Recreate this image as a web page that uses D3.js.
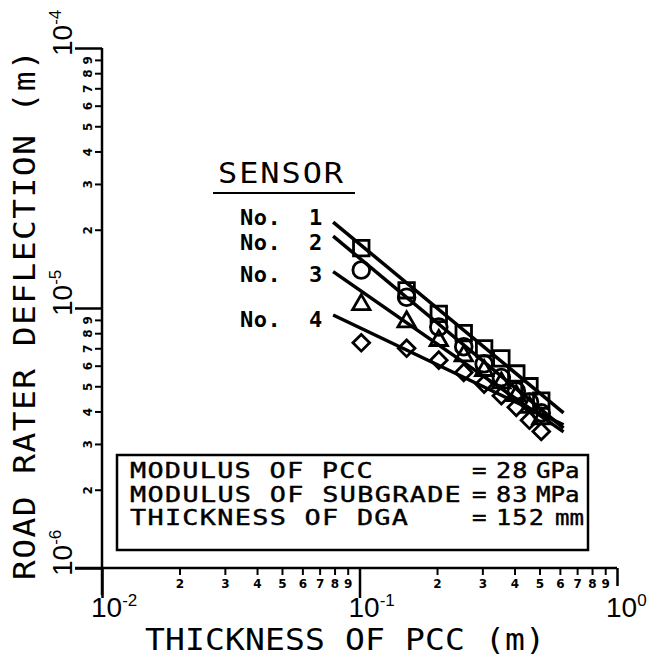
<!DOCTYPE html>
<html>
<head>
<meta charset="utf-8">
<script src="https://cdn.jsdelivr.net/npm/d3@7"></script>
<style>
body { margin: 0; background: #fff; }
text { fill: #000; }
</style>
</head>
<body>
<script>
// PCC thickness (m) for each measured point
const thickness = [0.1016, 0.1524, 0.2032, 0.254, 0.3048, 0.3556, 0.4064, 0.4572, 0.508];
// deflections, in micro-metres (1e-6 m)
const sensor1 = [17.0, 11.7, 9.5, 8.0, 7.0, 6.4, 5.6, 5.0, 4.4];
const sensor2 = [14.0, 11.0, 8.45, 7.1, 6.1, 5.4, 4.8, 4.35, 3.95];
const sensor3 = [10.3, 8.85, 7.5, 6.55, 5.75, 5.15, 4.6, 4.15, 3.75];
const sensor4 = [7.35, 7.0, 6.3, 5.65, 5.1, 4.6, 4.15, 3.7, 3.35];
// fitted lines: thickness range and deflection at both ends (micro-metres)
const fitX = [0.079, 0.62];
const fit1 = [21.4, 3.95];
const fit2 = [18.9, 3.45];
const fit3 = [13.8, 3.34];
const fit4 = [9.4, 3.55];
const sensorNames = ['1', '2', '3', '4'];

const xMajor = [0.01, 0.1, 1];
const yMajor = [1e-6, 1e-5, 1e-4];
const xExp = ['-2', '-1', '0'];
const yExp = ['-6', '-5', '-4'];
const minorDigits = [2, 3, 4, 5, 6, 7, 8, 9];

const params = ['MODULUS OF PCC', 'MODULUS OF SUBGRADE', 'THICKNESS OF DGA'];
const paramValues = ['28', '83', '152'];
const paramUnits = ['GPa', 'MPa', 'mm'];

const width = 649, height = 658;
const mono = '"DejaVu Sans Mono", monospace';

const svg = d3.select('body').append('svg')
	.attr('width', width)
	.attr('height', height)
	.style('background', '#fff');

const x = d3.scaleLog().domain([0.01, 1]).range([102, 617]);
const y = d3.scaleLog().domain([1e-6, 1e-4]).range([568, 48]);

const xMinor = d3.merge(xMajor.slice(0, 2).map(b => minorDigits.map(d => d * b)));
const yMinor = d3.merge(yMajor.slice(0, 2).map(b => minorDigits.map(d => d * b)));
const digitOf = d => Math.round(d / Math.pow(10, Math.floor(Math.log10(d) + 1e-9)));

// plotter-like wide lettering: mono font stretched sideways
function wideText(sel, px, py, rot, sx, size, str, len, sw) {
	let t = sel.append('text')
		.attr('transform', `translate(${px},${py}) rotate(${rot}) scale(${sx},1)`)
		.style('font-family', mono)
		.style('font-size', size + 'px')
		.style('stroke', '#000')
		.style('stroke-width', sw == null ? 0.4 : sw)
		.text(str);
	if(len) t.attr('textLength', len / sx).attr('lengthAdjust', 'spacing');
	return t;
}

// ---- axes ----
const axes = svg.append('g').attr('class', 'axes');

// x minor ticks
axes.append('g')
	.attr('transform', `translate(0,${y(1e-6)})`)
	.call(d3.axisBottom(x).tickValues(xMinor).tickSize(7).tickPadding(4).tickSizeOuter(0).tickFormat(digitOf))
	.call(g => g.select('.domain').remove())
	.call(g => g.selectAll('.tick line').attr('stroke', '#000').attr('stroke-width', 2))
	.call(g => g.selectAll('.tick text')
		.style('font-family', '"DejaVu Sans", sans-serif')
		.style('font-weight', 'bold')
		.style('font-size', '12px'));

// x major ticks
axes.append('g')
	.attr('transform', `translate(0,${y(1e-6)})`)
	.call(d3.axisBottom(x).tickValues(xMajor).tickSize(30).tickSizeOuter(0).tickFormat(''))
	.call(g => g.select('.domain').remove())
	.call(g => g.selectAll('.tick line').attr('stroke', '#000').attr('stroke-width', 2.5)
		.attr('y2', d => d === 1 ? 18 : 30));

// y minor ticks
axes.append('g')
	.attr('transform', `translate(${x(0.01)},0)`)
	.call(d3.axisLeft(y).tickValues(yMinor).tickSize(7).tickSizeOuter(0).tickFormat(digitOf))
	.call(g => g.select('.domain').remove())
	.call(g => g.selectAll('.tick line').attr('stroke', '#000').attr('stroke-width', 2))
	.call(g => g.selectAll('.tick text')
		.attr('x', null).attr('dy', null)
		.attr('transform', 'translate(-10,0) rotate(-90)')
		.attr('text-anchor', 'middle')
		.style('font-family', '"DejaVu Sans", sans-serif')
		.style('font-weight', 'bold')
		.style('font-size', '12px'));

// y major ticks
axes.append('g')
	.attr('transform', `translate(${x(0.01)},0)`)
	.call(d3.axisLeft(y).tickValues(yMajor).tickSize(27).tickSizeOuter(0).tickFormat(''))
	.call(g => g.select('.domain').remove())
	.call(g => g.selectAll('.tick line').attr('stroke', '#000').attr('stroke-width', 2.5));

// axis lines
axes.append('line')
	.attr('x1', x(0.01)).attr('x2', x(0.01))
	.attr('y1', y(1e-4)).attr('y2', y(1e-6) + 27)
	.attr('stroke', '#000').attr('stroke-width', 2.5);
axes.append('line')
	.attr('x1', x(0.01) - 27).attr('x2', x(1))
	.attr('y1', y(1e-6)).attr('y2', y(1e-6))
	.attr('stroke', '#000').attr('stroke-width', 2.5);

// decade labels
const xLab = axes.selectAll('text.xdec').data(xMajor).enter()
	.append('text')
	.attr('class', 'xdec')
	.attr('x', d => x(d) - 11)
	.attr('y', 617)
	.style('font-family', '"Liberation Sans", sans-serif')
	.style('font-size', '28px')
	.text('10');
xLab.append('tspan').attr('dy', -11).style('font-size', '17px').text((d, i) => xExp[i]);

const yLab = axes.selectAll('text.ydec').data(yMajor).enter()
	.append('text')
	.attr('class', 'ydec')
	.attr('transform', d => `translate(72,${y(d) + 8}) rotate(-90)`)
	.style('font-family', '"Liberation Sans", sans-serif')
	.style('font-size', '28px')
	.text('10');
yLab.append('tspan').attr('dy', -11).style('font-size', '17px').text((d, i) => yExp[i]);

// axis titles
wideText(svg, 145, 650, 0, 1.1, 30, 'THICKNESS OF PCC (m)', 400, 0);
wideText(svg, 35, 580, -90, 1.1, 30, 'ROAD RATER DEFLECTION (m)', 530, 0);

// ---- fitted lines ----
const series = [sensor1, sensor2, sensor3, sensor4];
const fits = [fit1, fit2, fit3, fit4];
const line = d3.line()
	.x(d => x(d[0]))
	.y(d => y(d[1] * 1e-6));

svg.append('g').attr('class', 'fits')
	.selectAll('path')
	.data(fits)
	.enter()
	.append('path')
	.attr('d', f => line(fitX.map((t, i) => [t, f[i]])))
	.attr('fill', 'none')
	.attr('stroke', '#000')
	.attr('stroke-width', 3.5);

// ---- markers ----
const symbols = [
	d3.symbol().type(d3.symbolSquare).size(240),
	d3.symbol().type(d3.symbolCircle).size(220),
	d3.symbol().type(d3.symbolTriangle).size(130),
	d3.symbol().type(d3.symbolSquare).size(140)
];
const rot = [0, 0, 0, 45];

series.forEach((s, k) => {
	svg.append('g').attr('class', 'dots _' + k)
		.selectAll('path')
		.data(s)
		.enter()
		.append('path')
		.attr('d', symbols[k])
		.attr('transform', (d, i) => `translate(${x(thickness[i])},${y(d * 1e-6)}) rotate(${rot[k]})`)
		.attr('fill', 'none')
		.attr('stroke', '#000')
		.attr('stroke-width', 2.8);
});

// ---- sensor legend ----
const legend = svg.append('g').attr('class', 'legend');
wideText(legend, 218, 183, 0, 1.1, 29, 'SENSOR', 125, 0);
legend.append('line')
	.attr('x1', 213).attr('x2', 355)
	.attr('y1', 193).attr('y2', 193)
	.attr('stroke', '#000').attr('stroke-width', 2);

const labelY = [225, 250, 282, 327];
const rows = legend.selectAll('g.row').data(sensorNames).enter()
	.append('g').attr('class', 'row');
rows.append('text')
	.attr('x', 240)
	.attr('y', (d, i) => labelY[i])
	.style('font-family', mono)
	.style('font-weight', 'bold')
	.style('font-size', '22px')
	.style('letter-spacing', '0.5px')
	.text('No.');
rows.append('text')
	.attr('x', 309)
	.attr('y', (d, i) => labelY[i])
	.style('font-family', mono)
	.style('font-weight', 'bold')
	.style('font-size', '22px')
	.text(d => d);

// ---- parameter box ----
const box = svg.append('g').attr('class', 'params');
box.append('rect')
	.attr('x', 117).attr('y', 455)
	.attr('width', 471).attr('height', 95)
	.attr('fill', 'none')
	.attr('stroke', '#000')
	.attr('stroke-width', 2.5);

const rowY = [478, 502, 525];
params.forEach((p, i) => {
	let rowLen = (p.length - 1) * 17.6 + 14;
	wideText(box, 130, rowY[i], 0, 1.28, 21, p, rowLen);
	wideText(box, 472, rowY[i], 0, 1.15, 21, '=');
	wideText(box, 496, rowY[i], 0, 1.2, 21, paramValues[i]).style('letter-spacing', '1px');
	wideText(box, paramUnits[i] === 'mm' ? 555 : 536, rowY[i], 0, 1.15, 21, paramUnits[i]);
});
</script>
</body>
</html>
